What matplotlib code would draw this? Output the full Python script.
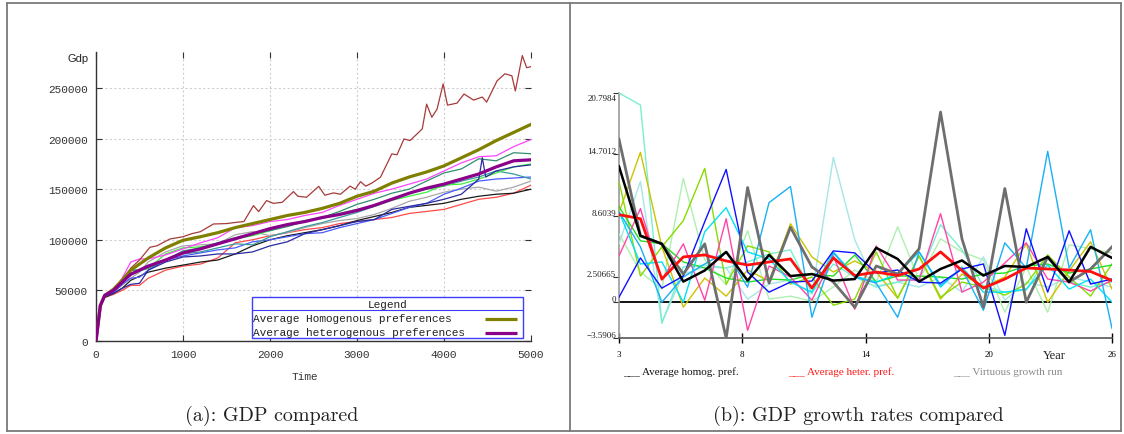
import numpy as np
import matplotlib
matplotlib.use("Agg")
import matplotlib.pyplot as plt
from matplotlib.patches import Rectangle
from matplotlib.lines import Line2D

# ---------------- Panel (a): GDP compared (values in thousands) ----------------
t_grid = [0, 50, 100, 200, 300, 400, 500, 600, 800, 1000, 1200, 1400, 1600, 1800, 2000,
          2200, 2400, 2600, 2800, 3000, 3200, 3400, 3600, 3800, 4000, 4200, 4400, 4600, 4800, 5000]
gdp_homog_avg = [0, 35, 45, 51, 60, 70, 76, 82, 92, 99.5, 103, 107, 112, 116, 120, 124, 127, 131,
                 136, 143, 148, 156, 162, 167, 173, 181, 189, 198, 206, 214]
gdp_heter_avg = [0, 35, 45, 50, 58, 66, 70, 74, 80, 87, 91, 96, 101, 106, 111, 115, 118, 122,
                 125, 129, 134, 140, 146, 151, 155, 160, 165, 172, 178, 179]
run_magenta = [0, 35, 44, 50, 62, 78, 81, 81, 85, 91, 97, 102, 112, 114, 118, 120, 124, 127,
               134, 140, 146, 150, 155, 160, 168, 176, 182, 183, 192, 199]
run_teal = [0, 35, 45, 51, 60, 70, 70, 72, 80, 89, 92, 97, 102, 106, 109, 113, 118, 122,
            128, 135, 140, 146, 150, 158, 166, 170, 180, 178, 186, 185]
run_green = [0, 35, 45, 50, 60, 70, 70, 72, 86, 92, 93, 96, 101, 104, 109, 115, 119, 121,
             126, 130, 133, 139, 143, 147, 154, 155, 160, 166, 172, 175]
run_cadet = [0, 35, 45, 51, 60, 65, 69, 72, 80, 86, 88, 92, 96, 95, 103, 108, 113, 117,
             122, 127, 133, 140, 146, 150, 153, 158, 162, 168, 165, 160]
run_gray = [0, 35, 44, 48, 55, 62, 68, 78, 88, 94, 95, 96, 105, 108, 104, 107, 112, 116,
            119, 121, 125, 131, 138, 142, 147, 150, 152, 148, 152, 158]
run_blue = [0, 35, 44, 48, 56, 62, 63, 70, 80, 84, 87, 90, 92, 98, 100, 103, 106, 107,
            112, 116, 120, 126, 132, 136, 145, 151, 158, 160, 161, 162]
run_black = [0, 35, 43, 47, 52, 60, 64, 68, 72, 75, 78, 80, 86, 94, 100, 104, 107, 110,
             114, 119, 123, 127, 132, 134, 136, 140, 143, 145, 146, 150]
run_red = [0, 35, 43, 46, 50, 55, 55, 62, 70, 74, 76, 82, 97, 100, 104, 107, 110, 112,
           116, 118, 120, 122, 126, 128, 130, 135, 140, 142, 146, 154]

t_brown = [0, 50, 100, 200, 300, 400, 500, 620, 700, 850, 1000, 1100, 1200, 1350, 1500, 1620,
           1700, 1810, 1870, 1960, 2040, 2140, 2270, 2320, 2420, 2560, 2630, 2730, 2810, 2920,
           2980, 3040, 3100, 3170, 3270, 3400, 3460, 3540, 3610, 3750, 3800, 3860, 3920, 3990,
           4040, 4150, 4230, 4340, 4440, 4490, 4610, 4700, 4780, 4820, 4900, 4950, 5000]
run_brown = [0, 35, 45, 50, 60, 72, 80, 92.6, 94, 100.8, 103, 106, 108, 115.6, 116, 117.3,
             118, 133.7, 127.8, 138.7, 136, 137, 147.6, 143, 142, 152.8, 144, 146.3, 145, 153,
             150, 157.4, 153, 156, 161.8, 184.8, 184, 199.6, 198, 209.5, 234, 221, 229, 254,
             233, 235, 244, 238, 241, 236, 257, 264, 262, 247, 282, 270, 271]

t_navy = [0, 50, 100, 200, 300, 400, 500, 600, 800, 1000, 1200, 1400, 1600, 1800, 2000, 2200,
          2400, 2600, 2800, 3000, 3200, 3400, 3600, 3800, 4000, 4200, 4400, 4440, 4480, 4600,
          4800, 5000]
run_navy = [0, 35, 44, 47, 52, 56, 57, 70, 78, 83, 84, 86, 86, 88, 94, 98, 106, 110, 114,
            118, 120, 130, 133, 136, 140, 145, 160, 181, 162, 168, 172, 174]

gdp_xticks = [0, 1000, 2000, 3000, 4000, 5000]
gdp_yticks = [0, 50000, 100000, 150000, 200000, 250000]
gdp_legend_labels = ["Average Homogenous preferences", "Average heterogenous preferences"]

# ---------------- Panel (b): GDP growth rates compared ----------------
years = list(range(3, 27))
growth_homog_avg = [13.5, 6.6, 5.8, 2.05, 3.15, 5.0, 2.15, 4.7, 2.6, 2.8, 2.15, 2.3,
                    5.4, 4.3, 2.05, 3.3, 4.15, 2.65, 3.6, 3.5, 4.5, 2.0, 5.5, 4.4]
growth_heter_avg = [8.7, 8.3, 2.3, 4.5, 4.7, 4.1, 3.7, 4.0, 4.3, 1.4, 4.4, 2.65,
                    3.0, 2.65, 3.3, 5.0, 3.15, 1.4, 2.3, 3.4, 3.3, 3.2, 3.05, 2.15]
growth_virtuous = [16.2, 6.6, 5.8, 2.8, 5.8, -3.5906, 11.4, 1.9, 7.45, 3.5, 2.0, -0.5,
                   3.6, 2.8, 5.3, 18.9, 6.3, -0.5, 11.3, 0.0, 4.5, 2.0, 3.3, 5.5]
growth_aquamarine = [20.7984, 19.6, -2.1, 3.5, 3.7, 3.4, 4.0, 4.8, 5.2, 0.9, 3.8, 2.5,
                     1.5, 2.0, 2.5, 7.7, 5.2, 1.6, 1.0, 1.2, 4.6, 2.0, 1.5, 2.0]
growth_yellow = [8.9, 14.9, 5.5, -0.5, 2.4, 0.6, 3.2, 2.1, 7.8, 4.5, 3.0, 4.1,
                 3.0, 0.4, 4.6, 0.3, 2.8, 1.5, 2.5, 5.8, 0.0, 3.1, 6.0, 1.3]
growth_yellowgreen = [12.0, 2.6, 5.5, 8.1, 13.3, 1.8, 5.6, 5.0, 1.8, 2.5, -0.3, 0.3,
                      5.0, 0.4, 4.6, 0.5, 2.0, 1.5, 0.7, 1.8, 4.7, 2.5, 0.6, 3.8]
growth_green = [9.5, 6.1, 5.8, 4.0, 3.4, 2.4, 2.0, 2.3, 2.2, 2.8, 2.6, 4.7,
                2.0, 2.6, 2.6, 2.5, 2.3, 2.8, 2.9, 3.6, 3.8, 2.9, 3.3, 3.7]
growth_blue = [0.5, 4.4, 1.4, 2.6, 8.0, 13.2, 3.0, 1.0, 2.0, 2.1, 5.1, 4.9,
               2.9, 3.2, 2.0, 1.9, 3.3, 3.8, -3.3, 7.3, 1.0, 7.1, 1.8, 2.3]
growth_skyblue = [9.0, 5.5, 0.0, 2.5, 3.8, 5.0, 1.5, 9.9, 11.5, -1.5, 4.9, 2.5,
                  1.9, -1.5, 5.0, 1.7, 3.3, -0.8, 5.9, 3.4, 15.0, 3.4, 7.2, -2.6]
growth_cyan = [9.0, 3.8, 4.0, 0.0, 7.0, 9.4, 5.0, 4.3, 2.0, 1.0, 5.0, 2.6,
               2.0, 2.8, 5.0, 1.5, 3.5, 1.0, 1.0, 1.3, 3.7, 1.3, 2.3, 0.0]
growth_pink = [4.6, 9.3, 2.2, 5.8, 0.2, 8.3, -2.8, 3.6, 2.5, 0.2, 4.6, -0.7,
               5.6, 2.2, 2.2, 8.8, 1.0, 2.0, 3.9, 5.9, 2.3, 2.0, 1.1, 2.2]
growth_palegreen = [6.8, 3.0, 1.3, 12.3, 4.2, 1.7, 7.1, 0.3, 0.6, 0.1, 1.5, 3.2,
                    2.0, 7.5, 2.2, 6.3, 5.0, 4.2, -1.0, 3.5, -1.0, 5.7, 5.3, 4.9]
growth_paleturq = [5.8, 12.0, -2.0, 2.8, 3.5, 3.4, 0.3, 1.8, 2.2, 0.8, 14.4, 6.2,
                   1.6, 2.0, 1.5, 2.5, 1.0, 4.5, 0.2, 2.0, 1.5, 2.5, 2.0, 1.5]

growth_ytick_values = [20.7984, 14.7012, 8.6039, 2.50665, 0, -3.5906]
growth_ytick_labels = ["20.7984", "14.7012", "8.6039", "2.50665", "0", "\u22123.5906"]
growth_legend_labels = ["Average homog. pref.", "Average heter. pref.", "Virtuous growth run"]

captions = ["(a): GDP compared", "(b): GDP growth rates compared"]

# ---------------- Figure ----------------
W, H = 1124, 435
fig = plt.figure(figsize=(W / 100, H / 100), dpi=100)
fig.patch.set_facecolor("white")

def fx(px):
    return px / W

def fy(py):
    return 1 - py / H

# frame (table borders)
frame_color = "#7a7a7a"
for xs, ys in [((7, 1121), (4, 4)), ((7, 1121), (432, 432)), ((7, 7), (4, 432)),
               ((1121, 1121), (4, 432)), ((570, 570), (4, 432))]:
    fig.add_artist(Line2D([fx(xs[0]), fx(xs[1])], [fy(ys[0]), fy(ys[1])],
                          transform=fig.transFigure, color=frame_color, lw=1.3))

# ---------- Left panel ----------
mono = "Liberation Mono"
ax1 = fig.add_axes([fx(96), fy(342), 435 / W, 289 / H])
k = 1000.0
thin = [
    (run_red, "#ff4a4a"), (run_black, "#1a1a1a"), (run_gray, "#a8a8a8"),
    (run_blue, "#4a5cff"), (run_cadet, "#3a9a9a"), (run_green, "#3cf03c"),
    (run_teal, "#2e8f6e"), (run_magenta, "#ff44ff"),
]
for vals, c in thin:
    ax1.plot(t_grid, np.array(vals) * k, color=c, lw=0.9, zorder=3)
ax1.plot(t_navy, np.array(run_navy) * k, color="#2a2aa0", lw=0.9, zorder=3)
ax1.plot(t_brown, np.array(run_brown) * k, color="#a83a3a", lw=0.9, zorder=3)
ax1.plot(t_grid, np.array(gdp_homog_avg) * k, color="#808000", lw=2.3, zorder=4)
ax1.plot(t_grid, np.array(gdp_heter_avg) * k, color="#8a008a", lw=2.3, zorder=4)

ax1.set_xlim(0, 5000)
ax1.set_ylim(0, 285500)
ax1.set_xticks(gdp_xticks)
ax1.set_yticks(gdp_yticks)
ax1.set_xticklabels([str(v) for v in gdp_xticks])
ax1.set_yticklabels([str(v) for v in gdp_yticks])
ax1.grid(True, linestyle=(0, (2, 2)), color="#cfcfcf", lw=0.8)
ax1.tick_params(direction="in", length=4, top=True, right=True, labelsize=8,
                labelcolor="#333333", color="#333333", pad=6)
for lab in ax1.get_xticklabels() + ax1.get_yticklabels():
    lab.set_fontfamily(mono)
for s in ("top", "right"):
    ax1.spines[s].set_visible(False)
for s in ("left", "bottom"):
    ax1.spines[s].set_color("#333333")
    ax1.spines[s].set_linewidth(1.0)

ax1.text(-0.041, 0.979, "Gdp", transform=ax1.transAxes, ha="center", va="center",
         fontsize=8, family="Liberation Sans", color="#222222")
ax1.text(0.48, -0.121, "Time", transform=ax1.transAxes, ha="center", va="center",
         fontsize=8, family=mono, color="#333333")

# legend box
lx0, lx1, ly0, ly1 = 0.3586, 0.9816, 0.0093, 0.1512
ax1.add_patch(Rectangle((lx0, ly0), lx1 - lx0, ly1 - ly0, transform=ax1.transAxes,
                        facecolor="white", edgecolor="#3d3dff", lw=1.0, zorder=6))
ax1.plot([lx0, lx1], [0.1073, 0.1073], transform=ax1.transAxes, color="#3d3dff",
         lw=0.8, zorder=7)
ax1.text((lx0 + lx1) / 2, 0.129, "Legend", transform=ax1.transAxes, ha="center",
         va="center", fontsize=8, family=mono, color="#222222", zorder=7)
for yy, lab, c in [(0.0785, gdp_legend_labels[0], "#808000"),
                   (0.030, gdp_legend_labels[1], "#8a008a")]:
    ax1.text(lx0 + 0.002, yy, lab, transform=ax1.transAxes, ha="left", va="center",
             fontsize=8, family=mono, color="#222222", zorder=7)
    ax1.plot([0.894, 0.968], [yy - 0.003, yy - 0.003], transform=ax1.transAxes,
             color=c, lw=2.3, zorder=7, solid_capstyle="butt")

# ---------- Right panel ----------
serif = "Liberation Serif"
ax2 = fig.add_axes([fx(619), fy(339.3), 493 / W, 245.3 / H])
thin_r = [
    (growth_palegreen, "#aef0ae"), (growth_paleturq, "#a6e6e6"),
    (growth_aquamarine, "#78f0d0"), (growth_yellow, "#cdc200"),
    (growth_yellowgreen, "#86dc00"), (growth_green, "#22dd22"),
    (growth_pink, "#ff44aa"), (growth_cyan, "#00e2f5"),
    (growth_skyblue, "#18b0f5"), (growth_blue, "#1010ff"),
]
for vals, c in thin_r:
    ax2.plot(years, vals, color=c, lw=1.0, zorder=3)
ax2.axhline(0, color="black", lw=1.3, zorder=2)
ax2.plot(years, growth_virtuous, color="#6e6e6e", lw=2.0, zorder=4)
ax2.plot(years, growth_heter_avg, color="#ff1010", lw=2.0, zorder=4)
ax2.plot(years, growth_homog_avg, color="#000000", lw=1.8, zorder=5)

ax2.set_xlim(years[0], years[-1])
ax2.set_ylim(min(growth_ytick_values), max(growth_ytick_values))
xt = np.linspace(years[0], years[-1], 5)
ax2.set_xticks(xt)
ax2.set_xticklabels([str(int(v)) for v in xt])
ax2.tick_params(axis="x", direction="inout", length=7, width=1.0, color="black",
                labelsize=6.5, pad=5)
for lab in ax2.get_xticklabels():
    lab.set_fontfamily(serif)
ax2.set_yticks(growth_ytick_values)
ax2.set_yticklabels([])
ax2.tick_params(axis="y", direction="out", length=4, width=0.8, color="#333333")
for v, lab in zip(growth_ytick_values, growth_ytick_labels):
    dy = -3.6 if v == max(growth_ytick_values) else 2.2
    ax2.annotate(lab, xy=(0, v), xycoords=("axes fraction", "data"),
                 xytext=(-2, dy), textcoords="offset points", ha="right", va="center",
                 fontsize=6.5, family=serif, color="#222222")
for s in ("top", "right"):
    ax2.spines[s].set_visible(False)
ax2.spines["left"].set_color("#9a9a9a")
ax2.spines["left"].set_linewidth(1.2)
ax2.spines["bottom"].set_color("#555555")
ax2.spines["bottom"].set_linewidth(1.2)

ax2.text(0.884, -0.068, "Year", transform=ax2.transAxes, ha="center", va="center",
         fontsize=9, family=serif, color="#222222")
for xx, lab, c in [(0.008, growth_legend_labels[0], "#111111"),
                   (0.343, growth_legend_labels[1], "#ff1a1a"),
                   (0.677, growth_legend_labels[2], "#8a8a8a")]:
    ax2.text(xx, -0.135, "___ " + lab, transform=ax2.transAxes, ha="left", va="center",
             fontsize=8, family=serif, color=c)

# captions
fig.text(fx(272), fy(416), captions[0], ha="center", va="center", fontsize=14.4,
         family="cmr10", color="#222222")
fig.text(fx(858), fy(416), captions[1], ha="center", va="center", fontsize=14.4,
         family="cmr10", color="#222222")

fig.savefig("out.png", dpi=100, facecolor="white")
